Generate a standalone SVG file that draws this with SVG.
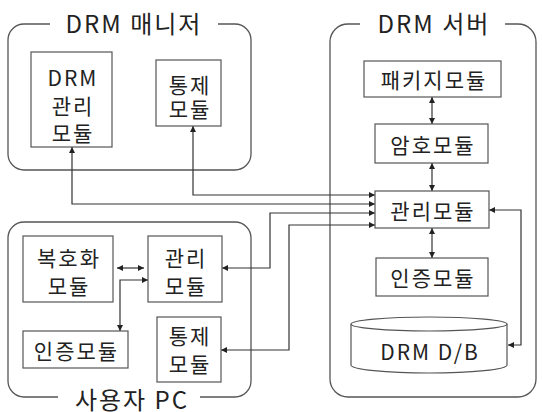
<svg xmlns="http://www.w3.org/2000/svg" width="542" height="412" viewBox="0 0 542 412">
<style>
.c{fill:none;stroke:#555;stroke-width:1.3}
.b{fill:#fff;stroke:#555;stroke-width:1.2}
.t{font-family:"Noto Sans CJK KR","Noto Sans",sans-serif;font-size:21px;fill:#222;text-anchor:middle;dominant-baseline:central;letter-spacing:2px}
.h{font-size:24px;letter-spacing:2px}
.l{fill:none;stroke:#333;stroke-width:1.2}
</style>
<defs>
<marker id="a" viewBox="0 0 6 6" refX="6" refY="3" markerWidth="6" markerHeight="6" markerUnits="userSpaceOnUse" orient="auto-start-reverse">
<path d="M0,0 L6,3 L0,6 Z" fill="#222"/>
</marker>
</defs>
<rect width="542" height="412" fill="#fff"/>
<g id="manager">
<path class="c" d="M218,24 H235 A16,16 0 0 1 251,40 V154 A16,16 0 0 1 235,170 H24 A16,16 0 0 1 8,154 V40 A16,16 0 0 1 24,24 H50"/>
<text class="t h" x="134" y="22">DRM 매니저</text>
</g>
<g id="server">
<path class="c" d="M505,24 H518 A18,18 0 0 1 536,42 V379 A18,18 0 0 1 518,397 H348 A18,18 0 0 1 330,379 V42 A18,18 0 0 1 348,24 H360"/>
<text class="t h" x="434" y="22">DRM 서버</text>
</g>
<g id="userpc">
<path class="c" d="M200,397 H235 A16,16 0 0 0 251,381 V238 A16,16 0 0 0 235,222 H24 A16,16 0 0 0 8,238 V381 A16,16 0 0 0 24,397 H58"/>
<text class="t h" x="132" y="398">사용자 PC</text>
</g>
<g id="connectors">
<path class="l" d="M193,126 V195 H375" marker-start="url(#a)" marker-end="url(#a)"/>
<path class="l" d="M72,147 V204 H375" marker-start="url(#a)" marker-end="url(#a)"/>
<path class="l" d="M222,268 H270 V213 H375" marker-start="url(#a)" marker-end="url(#a)"/>
<path class="l" d="M221,350 H289 V225 H375" marker-start="url(#a)" marker-end="url(#a)"/>
<path class="l" d="M432,97 V124" marker-start="url(#a)" marker-end="url(#a)"/>
<path class="l" d="M432,163 V191" marker-start="url(#a)" marker-end="url(#a)"/>
<path class="l" d="M432,228 V258" marker-start="url(#a)" marker-end="url(#a)"/>
<path class="l" d="M489,210 H521 V345 H508" marker-start="url(#a)" marker-end="url(#a)"/>
<path class="l" d="M117,268 H144" marker-start="url(#a)" marker-end="url(#a)"/>
<path class="l" d="M148,280 H120 V331" marker-start="url(#a)" marker-end="url(#a)"/>
</g>
<g id="m-drm">
<rect class="b" x="31" y="52" width="81" height="95"/>
<text class="t" x="73" y="77">DRM</text>
<text class="t" x="73" y="105">관리</text>
<text class="t" x="73" y="132">모듈</text>
</g>
<g id="m-control">
<rect class="b" x="156" y="60" width="65" height="66"/>
<text class="t" x="190" y="84">통제</text>
<text class="t" x="190" y="108">모듈</text>
</g>
<g id="s-package">
<rect class="b" x="364" y="61" width="137" height="36"/>
<text class="t" x="434" y="79">패키지모듈</text>
</g>
<g id="s-crypto">
<rect class="b" x="375" y="124" width="113" height="39"/>
<text class="t" x="433" y="143.5">암호모듈</text>
</g>
<g id="s-manage">
<rect class="b" x="375" y="191" width="114" height="37"/>
<text class="t" x="433" y="209.5">관리모듈</text>
</g>
<g id="s-auth">
<rect class="b" x="376" y="258" width="112" height="38"/>
<text class="t" x="433" y="277">인증모듈</text>
</g>
<g id="s-db">
<path class="b" d="M351,324 V365 A78,8 0 0 0 507,365 V324"/>
<ellipse class="b" cx="429" cy="324" rx="78" ry="7"/>
<text class="t" x="430" y="351">DRM D/B</text>
</g>
<g id="u-decrypt">
<rect class="b" x="23" y="236" width="90" height="66"/>
<text class="t" x="69" y="257">복호화</text>
<text class="t" x="69" y="285">모듈</text>
</g>
<g id="u-manage">
<rect class="b" x="148" y="236" width="74" height="66"/>
<text class="t" x="186" y="257">관리</text>
<text class="t" x="186" y="285">모듈</text>
</g>
<g id="u-auth">
<rect class="b" x="23" y="331" width="105" height="37"/>
<text class="t" x="76.5" y="349.5">인증모듈</text>
</g>
<g id="u-control">
<rect class="b" x="157" y="317" width="64" height="65"/>
<text class="t" x="190" y="335">통제</text>
<text class="t" x="190" y="363">모듈</text>
</g>
</svg>
